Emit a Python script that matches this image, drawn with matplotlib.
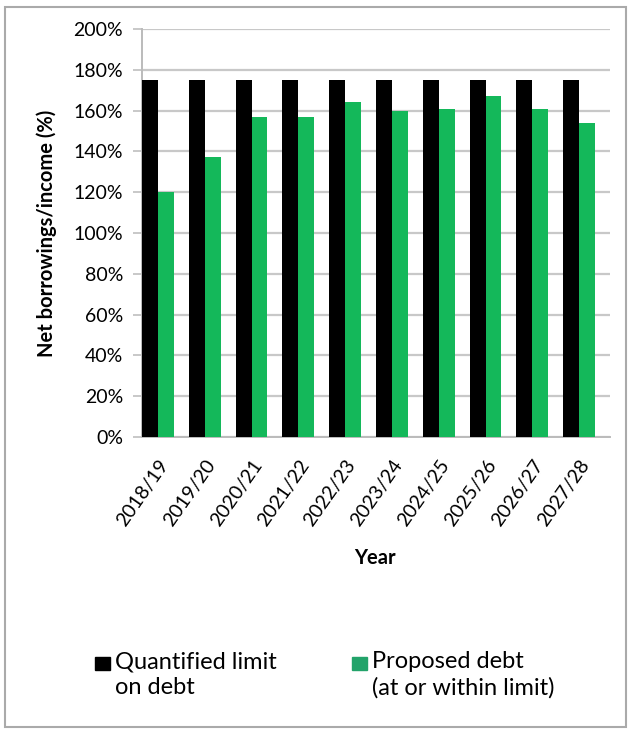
import matplotlib.pyplot as plt
import numpy as np
from matplotlib.patches import Rectangle
from matplotlib.ticker import PercentFormatter

years = ['2018/19', '2019/20', '2020/21', '2021/22', '2022/23',
         '2023/24', '2024/25', '2025/26', '2026/27', '2027/28']
limit = [175, 175, 175, 175, 175, 175, 175, 175, 175, 175]
proposed = [120, 137.5, 157, 157, 164, 160, 161, 167, 161, 154]
series_names = ['Quantified limit\non debt', 'Proposed debt\n(at or within limit)']
bar_colors = ['black', '#14b85a']
legend_colors = ['black', '#22a36a']

plt.rcParams['font.family'] = ['Lato', 'DejaVu Sans']

fig = plt.figure(figsize=(6.3, 7.31), dpi=100)
ax = fig.add_axes([0.2254, 0.4022, 0.7429, 0.5581])

x = np.arange(len(years))
w = 0.34
ax.bar(x - w / 2, limit, w, color=bar_colors[0], zorder=3)
ax.bar(x + w / 2, proposed, w, color=bar_colors[1], zorder=3)

ax.set_xlim(-w, len(years) - w)
ax.set_ylim(0, 200)
ax.set_yticks(range(0, 201, 20))
ax.yaxis.set_major_formatter(PercentFormatter(decimals=0))
ax.grid(axis='y', color='#c8c8c8', linewidth=1.6, zorder=0)
ax.set_xticks(x)
ax.set_xticklabels(years, rotation=55, ha='right', rotation_mode='anchor', fontsize=14)
ax.tick_params(axis='y', labelsize=14, length=6.5, width=1.4, color='#c8c8c8', pad=7)
ax.tick_params(axis='x', length=0, pad=14)
for s in ['top', 'right']:
    ax.spines[s].set_visible(False)
for s in ['left', 'bottom']:
    ax.spines[s].set_color('#bbbbbb')
    ax.spines[s].set_linewidth(1.4)

ax.set_ylabel('Net borrowings/income (%)', fontsize=14.5, fontweight='bold')
ax.yaxis.set_label_coords(-0.182, 0.5)
ax.set_xlabel('Year', fontsize=14.5, fontweight='bold')
ax.xaxis.set_label_coords(0.497, -0.272)

# legend drawn by hand so the squares sit on the first text line
leg_x = [95 / 630, 352 / 630]
for lx, name, c in zip(leg_x, series_names, legend_colors):
    fig.patches.append(Rectangle((lx, 1 - 670 / 731), 15 / 630, 13 / 731,
                                 transform=fig.transFigure, color=c))
    fig.text(lx + 20 / 630, 1 - 651 / 731, name, fontsize=17, va='top', ha='left',
             linespacing=1.3)

fig.patches.append(Rectangle((0.008, 0.006), 0.986, 0.984, transform=fig.transFigure,
                             fill=False, edgecolor='#aaaaaa', linewidth=1.5))

fig.savefig('out.png', dpi=100)
